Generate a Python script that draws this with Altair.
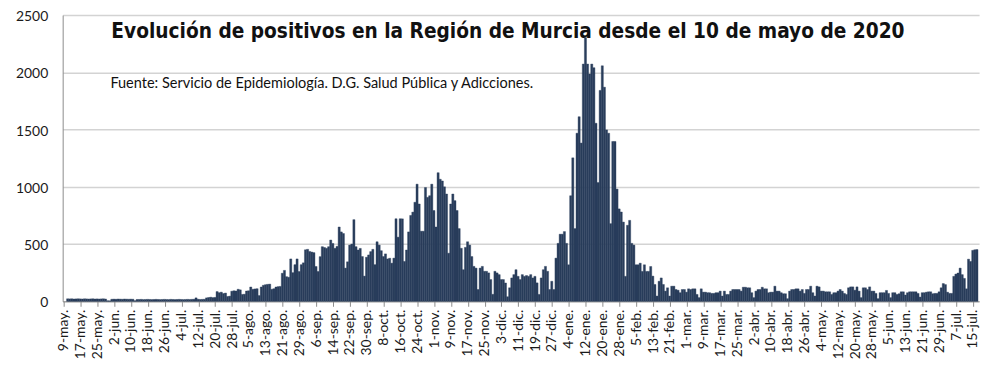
import json
import altair as alt
import pandas as pd

TITLE = "Evolución de positivos en la Región de Murcia desde el 10 de mayo de 2020"
SUBTITLE = "Fuente: Servicio de Epidemiología. D.G. Salud Pública y Adicciones."

TICK_LABELS = [
    "9-may.", "17-may.", "25-may.", "2-jun.", "10-jun.", "18-jun.", "26-jun.", "4-jul.",
    "12-jul.", "20-jul.", "28-jul.", "5-ago.", "13-ago.", "21-ago.", "29-ago.", "6-sep.",
    "14-sep.", "22-sep.", "30-sep.", "8-oct.", "16-oct.", "24-oct.", "1-nov.", "9-nov.",
    "17-nov.", "25-nov.", "3-dic.", "11-dic.", "19-dic.", "27-dic.", "4-ene.", "12-ene.",
    "20-ene.", "28-ene.", "5-feb.", "13-feb.", "21-feb.", "1-mar.", "9-mar.", "17-mar.",
    "25-mar.", "2-abr.", "10-abr.", "18-abr.", "26-abr.", "4-may.", "12-may.", "20-may.",
    "28-may.", "5-jun.", "13-jun.", "21-jun.", "29-jun.", "7-jul.", "15-jul.",
]

# daily positives, 9 May 2020 -> 15 Jul 2021
POS_MAY_JUL = [
    22, 21, 22, 20, 21, 22, 21, 20, 22, 21, 20, 21, 22, 20, 21, 20, 21, 22, 20,
    5, 4, 18,
    19, 18, 20, 19, 18, 20, 19, 18, 19, 18,
    5, 16,
    16, 17, 15, 16, 17, 16, 15, 16, 17, 16, 15, 16, 17, 16, 15, 17, 16, 15, 16, 17, 16, 15, 16, 17, 16, 17, 18,
    30,
    18, 16, 17, 18,
    30, 33, 36, 32, 34,
    85, 75, 80, 68, 72, 42,
]
POS_JUL_SEP = [
    45, 88, 92, 90, 105, 100, 60, 62, 90, 92, 125, 105, 108, 110, 50, 125,
    140, 145, 148, 150, 105, 110, 125, 128, 130, 245, 270, 215, 210, 370, 250, 320,
]
POS_SEP_OCT = [
    370, 260, 320, 336, 450, 454, 435, 430, 425, 304, 261, 390, 477, 470, 463, 477,
    535, 505, 463, 480, 649, 606, 592, 290, 345, 491, 500, 713, 477, 448, 462, 391,
    220, 385, 405, 434, 454, 320, 520, 491, 442, 391, 414, 370, 376, 333, 377, 721,
]
POS_OCT_DIC = [
    560, 721, 720, 348, 448, 606, 750, 779, 865, 1023,
    850, 612, 612, 994, 908, 922, 1023, 793, 649, 1123,
    1066, 1051, 1000, 937, 420, 850, 937, 879, 793, 635,
    463, 276, 471, 520, 491, 391, 305, 290, 103, 290,
    305, 262, 262, 248, 190, 61, 262, 248, 233, 190,
    190, 160, 40, 118, 204, 233, 276, 218, 190, 233,
    218, 225, 218, 233, 204, 218, 161, 60, 204,
]
POS_DIC_FEB = [
    276, 305, 262, 103, 175, 103, 377, 506, 586, 586,
    609, 506, 319, 922, 1253, 635, 1468, 1612, 1382, 2072,
    2302, 2072, 1985, 2072, 2040, 1555, 1037, 1842, 2057, 1870,
    1497, 1468, 678, 1396, 1396, 980, 807, 780, 692, 218,
    664, 707, 506, 491, 319, 319, 333, 261, 319, 261,
    261, 304, 220, 147, 46, 175, 204, 147, 89, 118,
    46, 132, 132,
]
POS_FEB_JUL = [
    103, 97, 75, 103, 103, 80, 109, 103, 109, 109,
    60, 32, 109, 80, 80, 75, 75, 69, 69, 75,
    75, 89, 46, 89, 60, 60, 89, 103, 103, 103,
    103, 89, 123, 123, 118, 118, 75, 32, 89, 103,
    103, 123, 109, 109, 75, 80, 80, 132, 89, 89,
    75, 66, 66, 23, 89, 103, 103, 109, 109, 89,
    103, 69, 103, 103, 132, 75, 46, 132, 126, 89,
    89, 83, 83, 83, 60, 75, 75, 89, 103, 89,
    69, 60, 118, 126, 126, 97, 126, 89, 32, 118,
    118, 103, 126, 89, 89, 69, 23, 75, 75, 75,
    95, 69, 32, 75, 75, 60, 66, 83, 83, 55,
    75, 83, 83, 83, 83, 69, 37, 75, 75, 80,
    83, 83, 66, 69, 69, 83, 118, 155, 146, 80,
    69, 69, 218, 238, 247, 290, 233, 200, 109, 368,
    348, 445, 450, 452,
]

VALUES = POS_MAY_JUL + POS_JUL_SEP + POS_SEP_OCT + POS_OCT_DIC + POS_DIC_FEB + POS_FEB_JUL
N = len(VALUES)

df = pd.DataFrame({"dia": list(range(N)), "positivos": VALUES})

FONT = "Lato"
BAR = "#293d5b"
label_expr = json.dumps(TICK_LABELS) + "[round(datum.value / 8)]"

bars = alt.Chart(df).transform_calculate(
    d0="datum.dia - 0.5", d1="datum.dia + 0.5"
).mark_rect(color=BAR, stroke=BAR, strokeWidth=0.4).encode(
    x=alt.X(
        "d0:Q",
        scale=alt.Scale(domain=[-2.36, 433.0], nice=False, zero=False),
        axis=alt.Axis(
            title=None,
            values=list(range(0, N, 8)),
            labelExpr=label_expr,
            labelAngle=270,
            labelOverlap=False,
            labelFlush=False,
            labelFont=FONT,
            labelFontSize=14,
            labelColor="#1a1a1a",
            labelPadding=3,
            tickColor="#8c8c8c",
            tickSize=5,
            tickOffset=-4,
            domainColor="#8c8c8c",
            grid=False,
        ),
    ),
    x2="d1:Q",
    y=alt.Y(
        "positivos:Q",
        scale=alt.Scale(domain=[0, 2500], nice=False),
        axis=alt.Axis(
            title=None,
            values=[0, 500, 1000, 1500, 2000, 2500],
            format="d",
            ticks=False,
            labelFont=FONT,
            labelFontSize=14,
            labelColor="#1a1a1a",
            labelPadding=15,
            labelOffset=1.5,
            domainColor="#8c8c8c",
            grid=True,
            gridColor="#d3d3d3",
            gridWidth=1.5,
        ),
    ),
    y2=alt.datum(0),
)

title = alt.Chart(pd.DataFrame({"t": [TITLE]})).mark_text(
    align="left", baseline="alphabetic", font="Liberation Sans Narrow, DejaVu Sans Condensed, sans-serif",
    fontSize=20.8, fontWeight="bold", color="#111111",
).encode(text="t:N", x=alt.value(49), y=alt.value(23))

subtitle = alt.Chart(pd.DataFrame({"t": [SUBTITLE]})).mark_text(
    align="left", baseline="alphabetic", font=FONT, fontSize=14.6, color="#111111",
).encode(text="t:N", x=alt.value(48), y=alt.value(73))

chart = alt.layer(bars, title, subtitle).properties(
    width=922,
    height=288,
    autosize=alt.AutoSizeParams(type="none"),
    padding={"left": 55, "top": 6, "right": 13, "bottom": 64},
).configure_view(strokeWidth=0)

chart.save("out.html", embed_options={"renderer": "svg", "actions": False})
